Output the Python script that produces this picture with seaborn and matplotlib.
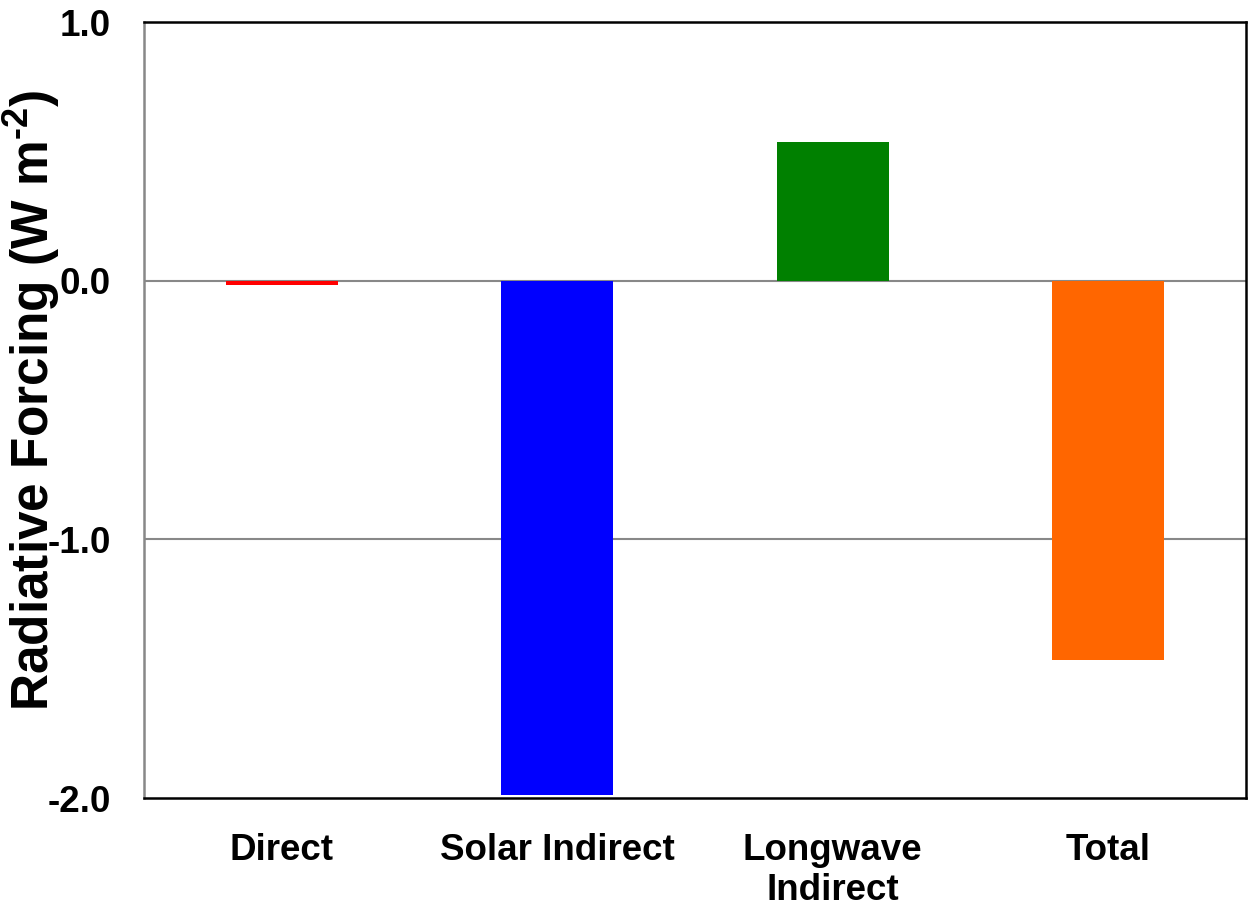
import matplotlib
matplotlib.use("Agg")
import matplotlib.pyplot as plt
import seaborn as sns
import pandas as pd

# values
categories = ['Direct', 'Solar Indirect', 'Longwave\nIndirect', 'Total']
forcing = [-0.015, -1.99, 0.537, -1.467]
bar_colors = ['#FF0000', '#0000FF', '#008000', '#FF6600']
y_ticks = [-2.0, -1.0, 0.0, 1.0]

df = pd.DataFrame({'category': categories, 'forcing': forcing})

sns.set_style('white')
plt.rcParams['font.family'] = ['Liberation Sans', 'DejaVu Sans']
plt.rcParams['font.weight'] = 'bold'
plt.rcParams['text.color'] = 'black'
plt.rcParams['axes.labelcolor'] = 'black'
plt.rcParams['xtick.color'] = 'black'
plt.rcParams['ytick.color'] = 'black'
plt.rcParams['mathtext.fontset'] = 'custom'
plt.rcParams['mathtext.bf'] = 'Liberation Sans:bold'
plt.rcParams['mathtext.rm'] = 'Liberation Sans:bold'

fig = plt.figure(figsize=(12.49, 9.09), dpi=100)
ax = fig.add_axes([144/1249, 1-798/909, 1102/1249, 776/909])

# gridlines behind the bars
for yv in [0.0, -1.0]:
  ax.axhline(yv, color='#888888', lw=1.5, zorder=0)

sns.barplot(
  data=df,
  x='category',
  y='forcing',
  hue='category',
  palette=bar_colors,
  legend=False,
  width=0.405,
  saturation=1,
  linewidth=0,
  ax=ax,
  zorder=2
)

ax.set_ylim(-2.0, 1.0)
ax.set_yticks(y_ticks)
ax.set_yticklabels([f'{t:.1f}' for t in y_ticks], fontsize=26.5, fontweight='bold')
ax.set_xticks(range(len(categories)))
ax.set_xticklabels(categories, fontsize=26.5, fontweight='bold', linespacing=1.2)
ax.tick_params(axis='y', length=0, pad=24)
ax.tick_params(axis='x', length=0, pad=25)
ax.set_xlabel('')
ax.set_ylabel('Radiative Forcing (W m$^{\\text{-2}}$)', fontsize=37, fontweight='bold')
ax.yaxis.set_label_coords(-0.0745, 0.512)

for side in ['top', 'right', 'bottom']:
  ax.spines[side].set_color('black')
  ax.spines[side].set_linewidth(1.8)
ax.spines['left'].set_color('#888888')
ax.spines['left'].set_linewidth(1.8)

plt.savefig('out.png', dpi=100)
plt.close()
